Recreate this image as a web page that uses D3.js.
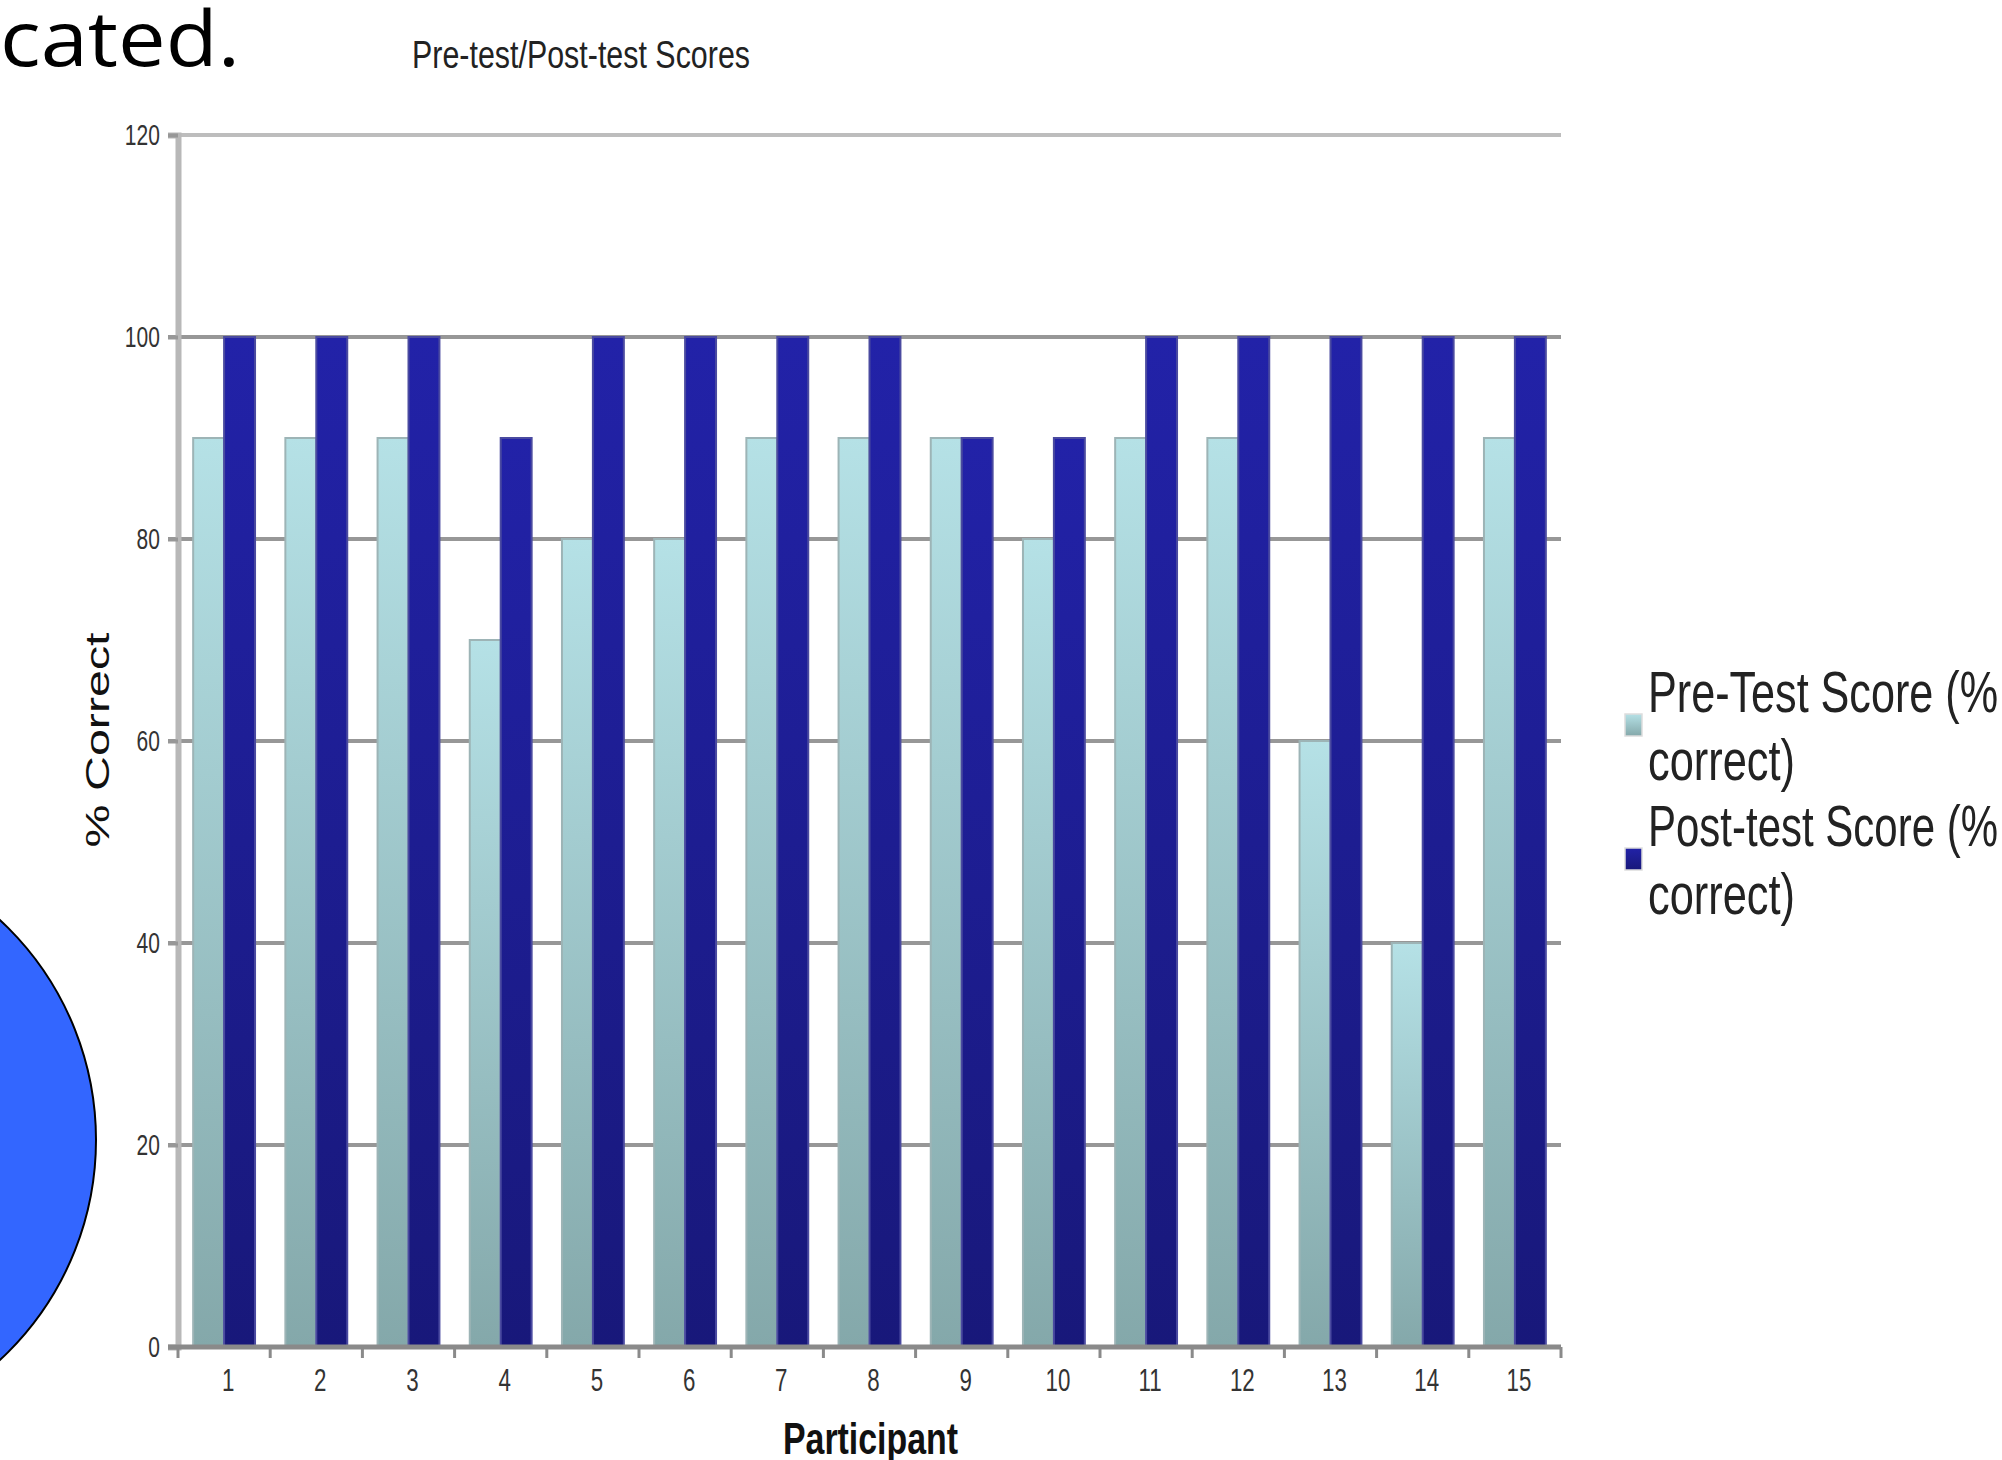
<!DOCTYPE html>
<html>
<head>
<meta charset="utf-8">
<script src="https://cdn.jsdelivr.net/npm/d3@7"></script>
<style>
  body { margin: 0; background: #fff; }
  svg { display: block; }
</style>
</head>
<body>
<div id="chart"></div>
<script>
// data
var participants = ["1","2","3","4","5","6","7","8","9","10","11","12","13","14","15"];
var preScores  = [90, 90, 90, 70, 80, 80, 90, 90, 90, 80, 90, 90, 60, 40, 90];
var postScores = [100, 100, 100, 90, 100, 100, 100, 100, 90, 90, 100, 100, 100, 100, 100];
var seriesKeys = ["pre", "post"];
var legendLines = [
  ["Pre-Test Score (%", "correct)"],
  ["Post-test Score (%", "correct)"]
];
var yTicks = [0, 20, 40, 60, 80, 100, 120];

var W = 2002, H = 1460;
var svg = d3.select("#chart").append("svg")
  .attr("width", W)
  .attr("height", H);

var defs = svg.append("defs");
function gradient(id, c1, c2) {
  var g = defs.append("linearGradient")
    .attr("id", id)
    .attr("x1", 0).attr("y1", 0).attr("x2", 0).attr("y2", 1);
  g.append("stop").attr("offset", "0%").attr("stop-color", c1);
  g.append("stop").attr("offset", "100%").attr("stop-color", c2);
}
gradient("gradPre", "#b5e1e6", "#84a8aa");
gradient("gradPost", "#2222a8", "#18187a");

var fills = { pre: "url(#gradPre)", post: "url(#gradPost)" };
var strokes = { pre: "#9db4b6", post: "#4a4aa0" };

// slide leftovers: text fragment and blue circle
svg.append("text")
  .attr("x", 0).attr("y", 66)
  .attr("font-family", "'Open Sans', 'Noto Sans', sans-serif")
  .attr("font-size", 76)
  .attr("textLength", 240)
  .attr("lengthAdjust", "spacingAndGlyphs")
  .attr("fill", "#000")
  .text("cated.");

svg.append("circle")
  .attr("cx", -204).attr("cy", 1140).attr("r", 300)
  .attr("fill", "#3366ff")
  .attr("stroke", "#000")
  .attr("stroke-width", 2);

// scales
var plotLeft = 178, plotRight = 1561, plotTop = 135, plotBottom = 1347;
var x = d3.scaleBand().domain(participants).range([plotLeft, plotRight]);
var xInner = d3.scaleBand().domain(seriesKeys).range([0, x.bandwidth()]).paddingOuter(0.49);
var y = d3.scaleLinear().domain([0, 120]).range([plotBottom, plotTop]);

var font = "'Liberation Sans', Arial, sans-serif";

// gridlines
svg.append("g").selectAll("line")
  .data(yTicks.filter(function(d) { return d > 0; }))
  .enter().append("line")
  .attr("x1", plotLeft - 10).attr("x2", plotRight)
  .attr("y1", function(d) { return y(d); })
  .attr("y2", function(d) { return y(d); })
  .attr("stroke", function(d) { return d === 120 ? "#bdbdbd" : "#979797"; })
  .attr("stroke-width", 4);

// bars
var rows = participants.map(function(p, i) {
  return { p: p, pre: preScores[i], post: postScores[i] };
});
var groups = svg.append("g").selectAll("g")
  .data(rows)
  .enter().append("g")
  .attr("transform", function(d) { return "translate(" + x(d.p) + ",0)"; });

groups.selectAll("rect")
  .data(function(d) { return seriesKeys.map(function(k) { return { key: k, value: d[k] }; }); })
  .enter().append("rect")
  .attr("x", function(d) { return xInner(d.key); })
  .attr("y", function(d) { return y(d.value); })
  .attr("width", xInner.bandwidth())
  .attr("height", function(d) { return plotBottom - y(d.value); })
  .attr("fill", function(d) { return fills[d.key]; })
  .attr("stroke", function(d) { return strokes[d.key]; })
  .attr("stroke-width", 2);

// y axis
var yAxis = svg.append("g")
  .attr("transform", "translate(" + plotLeft + ",0)")
  .call(d3.axisLeft(y).tickValues(yTicks).tickSize(10).tickPadding(16));
yAxis.select(".domain").attr("stroke", "#b8b8b8").attr("stroke-width", 6);
yAxis.selectAll(".tick line").attr("stroke", "#979797").attr("stroke-width", 4);
yAxis.selectAll(".tick text")
  .attr("font-family", font)
  .attr("font-size", 30)
  .attr("fill", "#333")
  .attr("transform", "scale(0.7,1)");

// x axis line and boundary ticks
svg.append("line")
  .attr("x1", plotLeft - 10).attr("x2", plotRight)
  .attr("y1", plotBottom).attr("y2", plotBottom)
  .attr("stroke", "#8a8a8a").attr("stroke-width", 5);

var boundaries = participants.map(function(p) { return x(p); }).concat([plotRight]);
svg.append("g").selectAll("line")
  .data(boundaries)
  .enter().append("line")
  .attr("x1", function(d) { return d; })
  .attr("x2", function(d) { return d; })
  .attr("y1", plotBottom).attr("y2", plotBottom + 11)
  .attr("stroke", "#8a8a8a").attr("stroke-width", 3);

var xAxis = svg.append("g")
  .attr("transform", "translate(0," + plotBottom + ")")
  .call(d3.axisBottom(x).tickSize(0).tickPadding(22));
xAxis.select(".domain").remove();
xAxis.selectAll(".tick text")
  .attr("font-family", font)
  .attr("font-size", 31)
  .attr("fill", "#333")
  .attr("transform", "translate(4,0) scale(0.72,1)");

// titles
svg.append("text")
  .attr("x", 412).attr("y", 68)
  .attr("font-family", font)
  .attr("font-size", 39)
  .attr("textLength", 338)
  .attr("lengthAdjust", "spacingAndGlyphs")
  .attr("fill", "#222")
  .text("Pre-test/Post-test Scores");

svg.append("text")
  .attr("x", 783).attr("y", 1454)
  .attr("font-family", font)
  .attr("font-size", 44)
  .attr("font-weight", "bold")
  .attr("textLength", 175)
  .attr("lengthAdjust", "spacingAndGlyphs")
  .attr("fill", "#111")
  .text("Participant");

svg.append("text")
  .attr("transform", "translate(109,740) rotate(-90)")
  .attr("text-anchor", "middle")
  .attr("font-family", font)
  .attr("font-size", 34)
  .attr("textLength", 215)
  .attr("lengthAdjust", "spacingAndGlyphs")
  .attr("fill", "#111")
  .text("% Correct");

// legend
var legend = svg.append("g").selectAll("g")
  .data(seriesKeys)
  .enter().append("g")
  .attr("transform", function(d, i) { return "translate(1625," + (712 + i * 134) + ")"; });

legend.append("rect")
  .attr("x", 0).attr("y", 2)
  .attr("width", 17).attr("height", 22)
  .attr("fill", function(d) { return fills[d]; })
  .attr("stroke", "#ddd")
  .attr("stroke-width", 1.5);

legend.each(function(d, i) {
  var g = d3.select(this);
  legendLines[i].forEach(function(line, j) {
    g.append("text")
      .attr("x", 23).attr("y", j * 68)
      .attr("font-family", font)
      .attr("font-size", 58)
      .attr("textLength", j === 0 ? 350 : 147)
      .attr("lengthAdjust", "spacingAndGlyphs")
      .attr("fill", "#222")
      .text(line);
  });
});
</script>
</body>
</html>
